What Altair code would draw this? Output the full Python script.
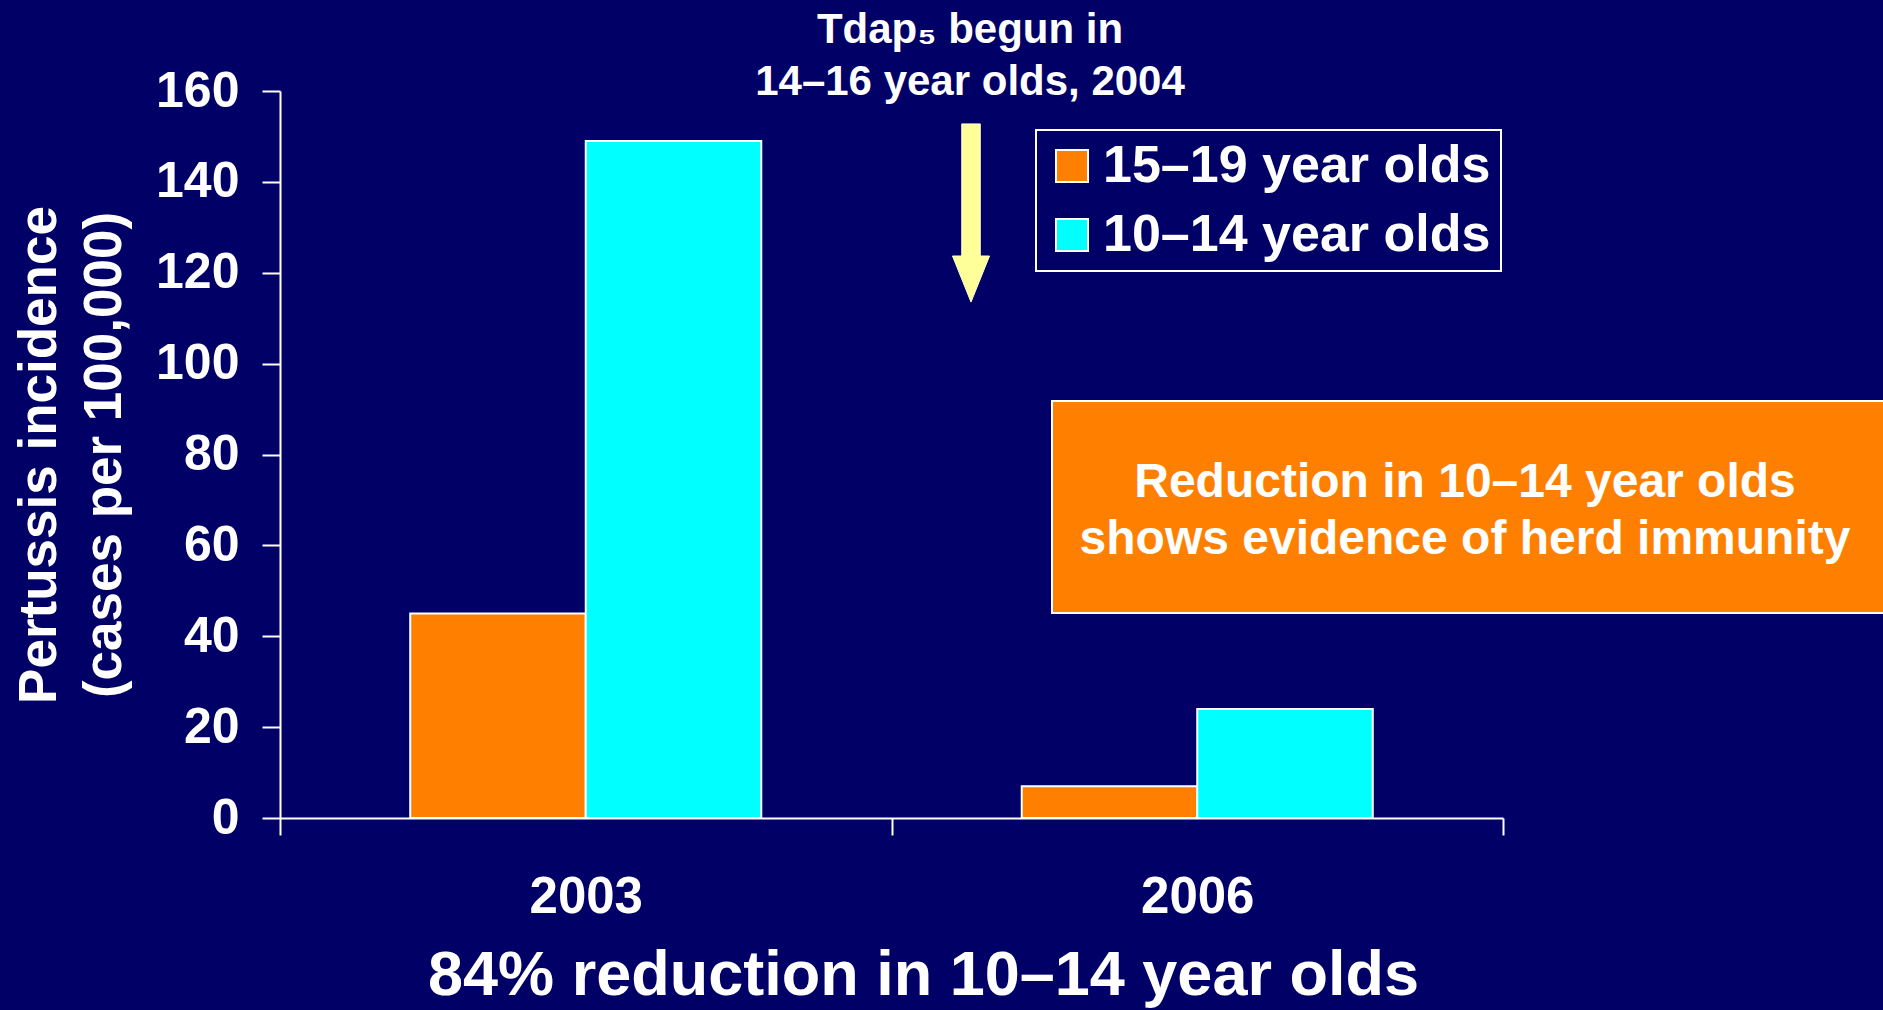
import altair as alt
import pandas as pd

# ---- data ----
years = ["2003", "2006"]
groups = ["15–19 year olds", "10–14 year olds"]
incidence_15_19 = [45, 7]
incidence_10_14 = [149, 24]
y_ticks = [0, 20, 40, 60, 80, 100, 120, 140, 160]

y_title = ["Pertussis incidence", "(cases per 100,000)"]
x_title = "84% reduction in 10–14 year olds"
top_note = ["Tdap₅ begun in\n14–16 year olds, 2004"]
box_note = ["Reduction in 10–14 year olds\nshows evidence of herd immunity"]

BG = "#000066"
ORANGE = "#FF8000"
CYAN = "#00FFFF"
YELLOW = "#FFFF99"
FONT = "Liberation Sans"

rows = []
for i, yr in enumerate(years):
    rows.append({"year": yr, "group": groups[0], "value": incidence_15_19[i]})
    rows.append({"year": yr, "group": groups[1], "value": incidence_10_14[i]})
df = pd.DataFrame(rows)

bars = alt.Chart(df).mark_bar(stroke="white", strokeWidth=2).encode(
    x=alt.X(
        "year:N",
        sort=years,
        scale=alt.Scale(paddingInner=0, paddingOuter=0),
        axis=alt.Axis(
            title=x_title,
            tickBand="extent",
            labelAngle=0,
            labelFontSize=51,
            labelPadding=37,
            tickSize=17,
            titleFontSize=63,
            titleX=643,
            titleY=176,
            titleAlign="center",
            titleBaseline="alphabetic",
        ),
    ),
    xOffset=alt.XOffset(
        "group:N",
        sort=groups,
        scale=alt.Scale(domain=groups, paddingInner=0, paddingOuter=0.742),
    ),
    y=alt.Y(
        "value:Q",
        scale=alt.Scale(domain=[0, 160], nice=False),
        axis=alt.Axis(
            title=y_title,
            values=y_ticks,
            labelFontSize=50,
            labelPadding=23,
            tickSize=18,
            titleFontSize=53,
            titleLineHeight=65,
            titleAngle=-90,
            titleX=-225,
            titleY=363.5,
            titleAlign="center",
            titleBaseline="alphabetic",
        ),
    ),
    color=alt.Color(
        "group:N",
        sort=groups,
        scale=alt.Scale(domain=groups, range=[ORANGE, CYAN]),
        legend=alt.Legend(
            title=None,
            orient="none",
            legendX=756,
            legendY=39,
        ),
    ),
)

arrow_path = "M -0.5 -7.14 L 0.5 -7.14 L 0.5 0 L 1 0 L 0 2.49 L -1 0 L -0.5 0 Z"
arrow = alt.Chart(pd.DataFrame({"a": [1]})).mark_point(
    shape=arrow_path, filled=True, size=1369, fill=YELLOW, stroke="#FFFFCC",
    strokeWidth=1, opacity=1,
).encode(x=alt.value(691), y=alt.value(165))

top_text = alt.Chart(pd.DataFrame({"t": top_note})).mark_text(
    fontSize=42, fontWeight="bold", color="white", font=FONT, align="center",
    baseline="alphabetic", lineBreak="\n", lineHeight=52,
).encode(text="t:N", x=alt.value(690), y=alt.value(-48))

box = alt.Chart(pd.DataFrame({"b": [1]})).mark_rect(
    fill=ORANGE, stroke="white", strokeWidth=2,
).encode(x=alt.value(772), x2=alt.value(1610), y=alt.value(310), y2=alt.value(522))

box_text = alt.Chart(pd.DataFrame({"t": box_note})).mark_text(
    fontSize=48, fontWeight="bold", color="white", font=FONT, align="center",
    baseline="alphabetic", lineBreak="\n", lineHeight=57,
).encode(text="t:N", x=alt.value(1185), y=alt.value(406))

chart = alt.layer(bars, box, box_text, arrow, top_text).properties(
    width=1223,
    height=727,
    padding={"left": 280, "top": 91, "right": 380, "bottom": 192},
    autosize=alt.AutoSizeParams(type="none"),
    background=BG,
).configure_view(stroke=None).configure_axis(
    domainColor="white",
    domainWidth=2,
    tickColor="white",
    tickWidth=2,
    grid=False,
    labelColor="white",
    labelFont=FONT,
    labelFontWeight="bold",
    titleColor="white",
    titleFont=FONT,
    titleFontWeight="bold",
).configure_legend(
    labelColor="white",
    labelFont=FONT,
    labelFontWeight="bold",
    labelFontSize=52,
    labelLimit=1000,
    labelOffset=5,
    symbolType="square",
    symbolSize=1024,
    symbolStrokeColor="white",
    symbolStrokeWidth=2,
    symbolOpacity=1,
    strokeColor="white",
    strokeWidth=2,
    padding=10,
    rowPadding=17,
)

chart.save("out.html", embed_options={"renderer": "svg", "actions": False})
